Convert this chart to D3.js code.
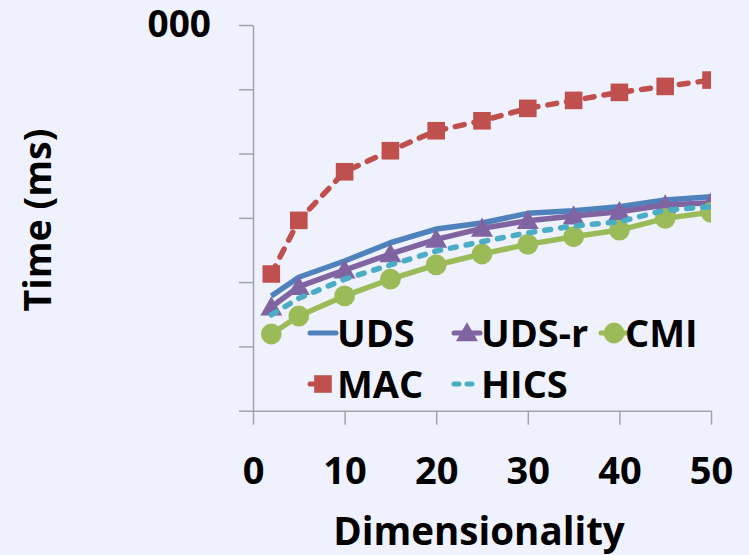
<!DOCTYPE html>
<html>
<head>
<meta charset="utf-8">
<script src="https://cdn.jsdelivr.net/npm/d3@7"></script>
<style>
  html, body { margin: 0; padding: 0; background: #eff2fd; }
  svg { display: block; }
  text { font-family: "Open Sans", Lato, sans-serif; font-weight: 700; fill: #000; }
</style>
</head>
<body>
<svg id="chart" width="749" height="555"></svg>
<script>
// Dimensionality (x) and running time in ms (log y) for each method
const dims = [2, 5, 10, 15, 20, 25, 30, 35, 40, 45, 50];
const udsTime  = [61, 119, 213, 410, 670, 830, 1175, 1290, 1490, 1890, 2130];
const udsrTime = [41, 85, 154, 274, 463, 687, 902, 1067, 1245, 1580, 1718];
const cmiTime  = [15.6, 29.7, 61, 111, 185, 274, 387, 508, 646, 982, 1219];
const macTime  = [134, 914, 5210, 11070, 22650, 32360, 50470, 67140, 89540, 110900, 139000];
const hicsTime = [31, 56, 111, 185, 305, 425, 586, 746, 869, 1321, 1489];

const xTickValues = [0, 10, 20, 30, 40, 50];
const yTickValues = [1, 10, 100, 1000, 10000, 100000, 1000000];
const yTickLabels = ["", "", "", "", "", "", "000"];

const seriesNames = ["UDS", "UDS-r", "CMI", "MAC", "HICS"];

const series = [
  { name: seriesNames[0], values: udsTime,  color: "#4f81bd", marker: null,       dash: null },
  { name: seriesNames[1], values: udsrTime, color: "#8064a2", marker: "triangle", dash: null },
  { name: seriesNames[2], values: cmiTime,  color: "#9bbb59", marker: "circle",   dash: null },
  { name: seriesNames[3], values: macTime,  color: "#c0504d", marker: "square",   dash: "9,10" },
  { name: seriesNames[4], values: hicsTime, color: "#4bacc6", marker: null,       dash: "6,10" }
];

const svg = d3.select("#chart");
const margin = { left: 253, right: 38, top: 25, bottom: 144.3 };
const W = 749, H = 555;
const iw = W - margin.left - margin.right;
const ih = H - margin.top - margin.bottom;

const x = d3.scaleLinear().domain([0, 50]).range([0, iw]);
const y = d3.scaleLog().domain([1, 1e6]).range([ih, 0]);

const g = svg.append("g").attr("transform", `translate(${margin.left},${margin.top})`);
const axisColor = "#a2a2aa";

// Y axis
const yAxis = g.append("g")
  .call(d3.axisLeft(y).tickValues(yTickValues)
    .tickFormat((d, i) => yTickLabels[i])
    .tickSizeInner(14).tickSizeOuter(0).tickPadding(28));
yAxis.selectAll("path, line").attr("stroke", axisColor).attr("stroke-width", 1.5);
yAxis.selectAll("text").style("font-size", "37px").attr("fill", "#000");

// X axis
const xAxis = g.append("g").attr("transform", `translate(0,${ih})`)
  .call(d3.axisBottom(x).tickValues(xTickValues)
    .tickSizeInner(14).tickSizeOuter(0).tickPadding(32));
xAxis.selectAll("path, line").attr("stroke", axisColor).attr("stroke-width", 1.5);
xAxis.selectAll("text").style("font-size", "38px").attr("fill", "#000");

// Axis titles
svg.append("text")
  .attr("x", 479).attr("y", 545)
  .attr("text-anchor", "middle").style("font-size", "38.5px")
  .text("Dimensionality");
svg.append("text")
  .attr("transform", "translate(51,220) rotate(-90)")
  .attr("text-anchor", "middle").style("font-size", "37.5px")
  .text("Time (ms)");

// Plot area clipping
svg.append("defs").append("clipPath").attr("id", "plotClip")
  .append("rect").attr("x", 0).attr("y", -30).attr("width", iw).attr("height", ih + 60);

const plot = g.append("g").attr("clip-path", "url(#plotClip)");

const line = d3.line().x((d, i) => x(dims[i])).y(d => y(d));

const symbolFor = {
  triangle: d3.symbol().type(d3.symbolTriangle).size(210),
  circle: d3.symbol().type(d3.symbolCircle).size(340),
  square: d3.symbol().type(d3.symbolSquare).size(310)
};

series.forEach(s => {
  const sg = plot.append("g");
  sg.append("path")
    .datum(s.values)
    .attr("d", line)
    .attr("fill", "none")
    .attr("stroke", s.color)
    .attr("stroke-width", 5.5)
    .attr("stroke-linejoin", "round")
    .attr("stroke-linecap", s.dash ? "round" : "butt")
    .attr("stroke-dasharray", s.dash);
  if (s.marker) {
    sg.selectAll("path.mk")
      .data(s.values)
      .join("path")
      .attr("class", "mk")
      .attr("d", symbolFor[s.marker])
      .attr("transform", (d, i) => `translate(${x(dims[i])},${y(d) + (s.marker === "triangle" ? 2 : 0)})`)
      .attr("fill", s.color);
  }
});

// Legend
const legendPos = [
  { sx: 310, tx: 337, y: 333 },
  { sx: 454, tx: 481, y: 333 },
  { sx: 601, tx: 625, y: 333 },
  { sx: 310, tx: 337, y: 384 },
  { sx: 454, tx: 481, y: 384 }
];
const legend = svg.append("g");
series.forEach((s, i) => {
  const p = legendPos[i];
  const lg = legend.append("g");
  lg.append("line")
    .attr("x1", p.sx).attr("x2", p.sx + 26)
    .attr("y1", p.y).attr("y2", p.y)
    .attr("stroke", s.color).attr("stroke-width", 5)
    .attr("stroke-linecap", "round")
    .attr("stroke-dasharray", s.dash ? "5,8" : null);
  if (s.marker) {
    lg.append("path")
      .attr("d", symbolFor[s.marker])
      .attr("transform", `translate(${p.sx + 13},${p.y + (s.marker === "triangle" ? 2 : 0)})`)
      .attr("fill", s.color);
  }
  lg.append("text")
    .attr("x", p.tx).attr("y", p.y + 13.5)
    .style("font-size", "38px")
    .text(s.name);
});
</script>
</body>
</html>
